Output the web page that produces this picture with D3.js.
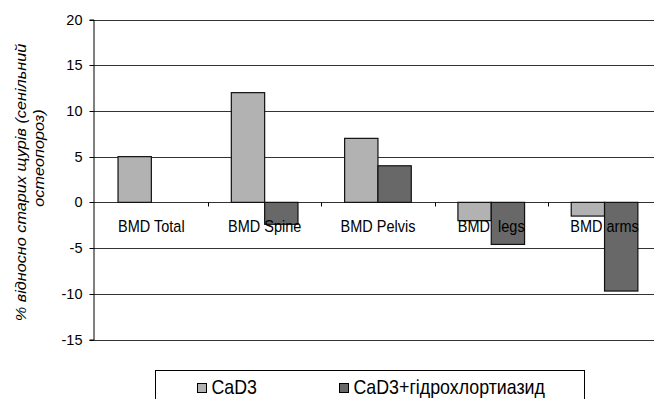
<!DOCTYPE html>
<html><head><meta charset="utf-8">
<script src="https://cdn.jsdelivr.net/npm/d3@7"></script>
<style>body{margin:0;background:#fff}svg{display:block}text{font-family:"Liberation Sans",Arial,sans-serif}</style>
</head><body><svg id="c" width="654" height="399"></svg>
<script>
const categories = ["BMD Total","BMD Spine","BMD Pelvis","BMD  legs","BMD arms"];
const seriesNames = ["CaD3","CaD3+гідрохлортиазид"];
const cad3 = [5, 12, 7, -2, -1.5];
const cad3Hydro = [0, -2.4, 4, -4.6, -9.7];
const yTicks = [20,15,10,5,0,-5,-10,-15];
const colors = ["#b2b2b2","#686868"];

const svg = d3.select("#c");
const axisX = 93, gridRight = 654, pTop = 19.5, pBottom = 339.5;
const catStart = 94.7, catStep = 113.3;
const y = d3.scaleLinear().domain([-15,20]).range([pBottom, pTop]);
const x = d3.scaleBand().domain(categories).range([catStart, catStart + catStep*categories.length])
  .paddingInner(1.4/3.4).paddingOuter(0.7/3.4);
const x1 = d3.scaleBand().domain(seriesNames).range([0, x.bandwidth()]);

// gridlines
svg.append("g").selectAll("line").data(yTicks).join("line")
  .attr("x1", axisX).attr("x2", gridRight)
  .attr("y1", d=>Math.round(y(d))+0.5).attr("y2", d=>Math.round(y(d))+0.5)
  .attr("stroke", "#333").attr("stroke-width", 1);

// y axis
const ya = svg.append("g").attr("transform", `translate(${axisX+0.5},0)`)
  .call(d3.axisLeft(y).tickValues(yTicks).tickSize(4).tickPadding(7).tickFormat(d=>String(d)));
ya.select(".domain").attr("stroke","#000");
ya.selectAll(".tick line").attr("stroke","#000");
ya.selectAll(".tick text").attr("font-size",14.5).attr("fill","#000").attr("font-family","Liberation Sans, Arial, sans-serif");
ya.selectAll(".tick").attr("transform", d=>`translate(0,${Math.round(y(d))+0.5})`);

// bars
const data = categories.map((c,i)=>({c, vals:[cad3[i], cad3Hydro[i]]}));
const g = svg.append("g");
data.forEach(d=>{
  d.vals.forEach((v,j)=>{
    if (v === 0) return;
    const y0 = y(0), yv = y(v);
    g.append("rect")
      .attr("x", x(d.c) + x1(seriesNames[j]))
      .attr("y", Math.min(y0,yv))
      .attr("width", x1.bandwidth())
      .attr("height", Math.abs(yv-y0))
      .attr("fill", colors[j]).attr("stroke","#111").attr("stroke-width",1.2);
  });
});

// category ticks on zero line
const z = Math.round(y(0))+0.5;
svg.append("g").selectAll("line").data(categories.slice(1)).join("line")
  .attr("x1", d=>Math.round(x(d) - x.step()*x.paddingInner()/2)+0.5)
  .attr("x2", d=>Math.round(x(d) - x.step()*x.paddingInner()/2)+0.5)
  .attr("y1", z).attr("y2", z+4).attr("stroke","#000");

// category labels
svg.append("g").selectAll("text").data(categories).join("text")
  .attr("transform", d=>`translate(${x(d)+x.bandwidth()/2},232) scale(1,1.12)`)
  .attr("text-anchor","middle").attr("font-size",14.5).attr("fill","#000")
  .style("white-space","pre").text(d=>d);

// y title
svg.append("text").attr("transform","translate(26,182.5) rotate(-90) scale(1.16,1)")
  .attr("font-size",14).attr("font-style","italic").attr("text-anchor","middle").text("% відносно старих щурів (сенільний");
svg.append("text").attr("transform","translate(44,158) rotate(-90) scale(1.16,1)")
  .attr("font-size",14).attr("font-style","italic").attr("text-anchor","middle").text("остеопороз)");

// legend
svg.append("rect").attr("x",155.5).attr("y",370.5).attr("width",429).attr("height",40)
  .attr("fill","#fff").attr("stroke","#000");
const lx = [197, 339];
seriesNames.forEach((s,i)=>{
  svg.append("rect").attr("x",lx[i]+0.5).attr("y",383.5).attr("width",9).attr("height",9)
    .attr("fill",colors[i]).attr("stroke","#000");
  svg.append("text").attr("transform",`translate(${lx[i]+14.5},394) scale(1,1.1)`).attr("font-size",17.8).attr("fill","#000").text(s);
});
</script></body></html>
